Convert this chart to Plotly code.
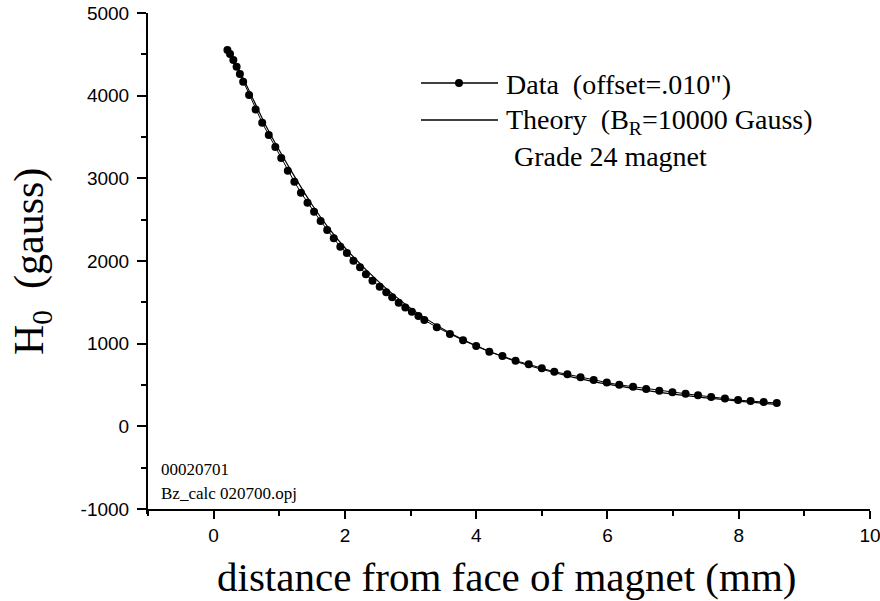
import plotly.graph_objects as go

# ---- data ----
data_x = [0.21, 0.25, 0.30, 0.35, 0.40, 0.45, 0.54, 0.64, 0.74, 0.84, 0.94,
          1.03, 1.13, 1.23, 1.33, 1.43, 1.53, 1.63, 1.73, 1.83, 1.93,
          2.03, 2.13, 2.23, 2.32, 2.42, 2.53, 2.63, 2.72, 2.82, 2.92,
          3.02, 3.12, 3.21, 3.40, 3.60, 3.80, 4.00, 4.20, 4.40, 4.60,
          4.80, 5.00, 5.19, 5.39, 5.59, 5.79, 5.99, 6.18, 6.39, 6.59,
          6.79, 6.99, 7.19, 7.38, 7.58, 7.79, 7.99, 8.18, 8.38, 8.58]
data_y = [4552, 4504, 4431, 4350, 4261, 4168, 4008, 3834, 3672, 3524, 3378,
          3245, 3092, 2959, 2826, 2705, 2596, 2483, 2374, 2274, 2172,
          2096, 2002, 1923, 1839, 1761, 1689, 1621, 1560, 1495, 1439,
          1386, 1334, 1286, 1198, 1117, 1040, 971, 902, 850, 794,
          750, 702, 660, 629, 593, 560, 530, 502, 479, 451,
          431, 411, 394, 375, 355, 336, 318, 306, 294, 282]

theory_x = [0.2, 0.4, 0.6, 0.8, 1.0, 1.25, 1.5, 1.75, 2.0, 2.5, 3.0, 3.5,
            4.0, 4.5, 5.0, 5.5, 6.0, 6.5, 7.0, 7.5, 8.0, 8.6]
theory_y = [4560, 4290, 3960, 3630, 3340, 3000, 2680, 2400, 2160, 1760, 1430,
            1175, 975, 815, 690, 590, 510, 445, 390, 345, 305, 265]

x_ticks = [0, 2, 4, 6, 8, 10]
x_ticktext = ["0", "2", "4", "6", "8", "10"]
y_ticks = [-1000, 0, 1000, 2000, 3000, 4000, 5000]
y_ticktext = ["-1000", "0", "1000", "2000", "3000", "4000", "5000"]

legend_data = "Data\u00a0\u00a0(offset=.010\")"
legend_theory = "Theory\u00a0\u00a0(B<sub>R</sub>=10000 Gauss)"
legend_note = "Grade 24 magnet"
file_note1 = "00020701"
file_note2 = "Bz_calc 020700.opj"
x_title = "distance from face of magnet (mm)"
y_title = "H<sub>0</sub>\u00a0\u00a0(gauss)"

# ---- layout geometry (pixels) ----
W, H = 880, 601
L, R, T, B = 148, 10, 13, 92
PW, PH = W - L - R, H - T - B


def px(xp):
    return (xp - L) / PW


def py(yp):
    return (H - B - yp) / PH


SERIF = "Liberation Serif, Times New Roman, serif"
SANS = "Liberation Sans, Arial, sans-serif"

fig = go.Figure()
fig.add_trace(go.Scatter(x=theory_x, y=theory_y, mode="lines",
                         line=dict(color="black", width=1.2, shape="spline"),
                         showlegend=False))
fig.add_trace(go.Scatter(x=data_x, y=data_y, mode="lines+markers",
                         line=dict(color="black", width=1),
                         marker=dict(color="black", size=8),
                         showlegend=False))

axis_common = dict(showline=True, linecolor="black", linewidth=2,
                   ticks="outside", tickcolor="black", tickwidth=2,
                   showgrid=False, zeroline=False, mirror=False,
                   automargin=False, ticklabeloverflow="allow",
                   tickfont=dict(family=SANS, size=19, color="black"))

fig.update_xaxes(range=[-1, 10], tickvals=x_ticks, ticktext=x_ticktext,
                 ticklen=8, ticklabelstandoff=0,
                 minor=dict(dtick=1, tick0=1, ticklen=5, tickwidth=2,
                            tickcolor="black", ticks="outside", showgrid=False),
                 **axis_common)
fig.update_yaxes(range=[-1000, 5000], tickvals=y_ticks, ticktext=y_ticktext,
                 ticklen=9, ticklabelstandoff=4,
                 minor=dict(dtick=1000, tick0=500, ticklen=5, tickwidth=2,
                            tickcolor="black", ticks="outside", showgrid=False),
                 **axis_common)

shapes = []
# legend samples
shapes.append(dict(type="line", xref="paper", yref="paper",
                   x0=px(421), x1=px(498), y0=py(83), y1=py(83),
                   line=dict(color="black", width=1.4)))
shapes.append(dict(type="circle", xref="paper", yref="paper",
                   xsizemode="pixel", ysizemode="pixel",
                   xanchor=px(459), yanchor=py(83),
                   x0=-4, x1=4, y0=-4, y1=4,
                   fillcolor="black", line=dict(color="black", width=0)))
shapes.append(dict(type="line", xref="paper", yref="paper",
                   x0=px(421), x1=px(498), y0=py(120), y1=py(120),
                   line=dict(color="black", width=1.4)))
# y axis line extends slightly below the x axis
shapes.append(dict(type="line", xref="paper", yref="paper",
                   x0=px(147), x1=px(147), y0=py(509), y1=py(514),
                   line=dict(color="black", width=2)))

annotations = [
    dict(text=legend_data, xref="paper", yref="paper", x=px(504), y=py(85),
         xanchor="left", yanchor="middle", showarrow=False,
         font=dict(family=SERIF, size=28, color="black")),
    dict(text=legend_theory, xref="paper", yref="paper", x=px(504), y=py(121),
         xanchor="left", yanchor="middle", showarrow=False,
         font=dict(family=SERIF, size=28, color="black")),
    dict(text=legend_note, xref="paper", yref="paper", x=px(512), y=py(157),
         xanchor="left", yanchor="middle", showarrow=False,
         font=dict(family=SERIF, size=28, color="black")),
    dict(text=file_note1, xref="paper", yref="paper", x=px(159), y=py(469),
         xanchor="left", yanchor="middle", showarrow=False,
         font=dict(family=SERIF, size=17, color="black")),
    dict(text=file_note2, xref="paper", yref="paper", x=px(159), y=py(493),
         xanchor="left", yanchor="middle", showarrow=False,
         font=dict(family=SERIF, size=17, color="black")),
    dict(text=x_title, xref="paper", yref="paper", x=px(506), y=py(577),
         xanchor="center", yanchor="middle", showarrow=False,
         font=dict(family=SERIF, size=41, color="black")),
    dict(text=y_title, xref="paper", yref="paper", x=px(32), y=py(262),
         xanchor="center", yanchor="middle", showarrow=False, textangle=-90,
         font=dict(family=SERIF, size=42, color="black")),
]

fig.update_layout(width=W, height=H, margin=dict(l=L, r=R, t=T, b=B,
                                                 autoexpand=False),
                  paper_bgcolor="white", plot_bgcolor="white",
                  shapes=shapes, annotations=annotations, showlegend=False)

fig.write_html("out.html")
